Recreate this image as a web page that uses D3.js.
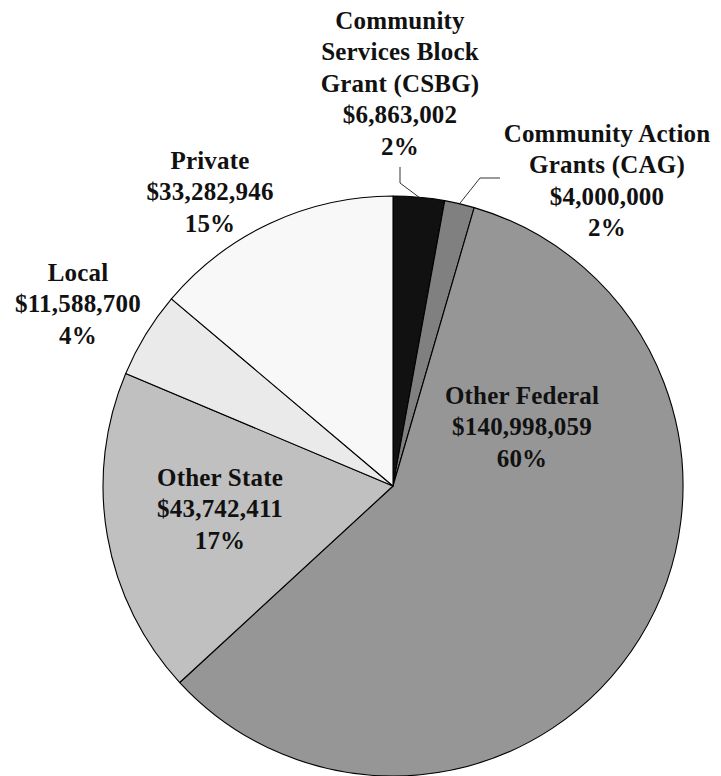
<!DOCTYPE html>
<html>
<head>
<meta charset="utf-8">
<script src="https://cdn.jsdelivr.net/npm/d3@7"></script>
<style>
  html, body { margin: 0; padding: 0; background: #fff; }
  svg text { font-family: "Liberation Serif", "Times New Roman", serif; font-weight: bold; fill: #111; }
</style>
</head>
<body>
<svg id="chart" width="721" height="776"></svg>
<script>
// Funding sources, clockwise from 12 o'clock
const categories = ["Community Services Block Grant (CSBG)", "Community Action Grants (CAG)", "Other Federal", "Other State", "Local", "Private"];
const amounts = [6863002, 4000000, 140998059, 43742411, 11588700, 33282946];
const percentLabels = ["2%", "2%", "60%", "17%", "4%", "15%"];
const nameLines = [
  ["Community", "Services Block", "Grant (CSBG)"],
  ["Community Action", "Grants (CAG)"],
  ["Other Federal"],
  ["Other State"],
  ["Local"],
  ["Private"]
];
const fills = ["#111111", "#808080", "#969696", "#c0c0c0", "#eaeaea", "#f8f8f8"];

const cx = 393, cy = 486, radius = 290;
const lineH = 31.5;

// label anchor: centre x and y of the first line
const labelPos = [
  { x: 400, y: 20 },
  { x: 607, y: 133 },
  { x: 522, y: 395 },
  { x: 220, y: 477 },
  { x: 78, y: 272 },
  { x: 210, y: 160 }
];

const fmt = d3.format("$,");

const svg = d3.select("#chart");
const g = svg.append("g").attr("transform", `translate(${cx},${cy})`);

const pie = d3.pie().sort(null).value(d => d.value);
const data = categories.map((c, i) => ({ name: c, value: amounts[i], i }));
const arcs = pie(data);
const arc = d3.arc().innerRadius(0).outerRadius(radius);

g.selectAll("path.slice")
  .data(arcs)
  .join("path")
  .attr("class", "slice")
  .attr("d", arc)
  .attr("fill", d => fills[d.data.i])
  .attr("stroke", "#000")
  .attr("stroke-width", 1.1)
  .attr("stroke-linejoin", "round");

// leader lines for the two thin slices at the top
function outerPoint(a) {
  const m = (a.startAngle + a.endAngle) / 2;
  return [cx + radius * Math.sin(m), cy - radius * Math.cos(m)];
}
const leaders = [
  { idx: 0, pts: [[400, 167], [400, 183]] },
  { idx: 1, pts: [[500, 178], [480, 178]] }
];
leaders.forEach(l => {
  const pts = l.pts.concat([outerPoint(arcs[l.idx])]);
  svg.append("path")
    .attr("d", d3.line()(pts))
    .attr("fill", "none")
    .attr("stroke", "#000")
    .attr("stroke-width", 0.8);
});

// data labels: name lines, amount, percent
arcs.forEach(a => {
  const i = a.data.i;
  const lines = nameLines[i].concat([fmt(amounts[i]), percentLabels[i]]);
  const t = svg.append("text")
    .attr("text-anchor", "middle")
    .attr("font-size", 25)
    .attr("letter-spacing", 0.2);
  lines.forEach((s, k) => {
    t.append("tspan")
      .attr("x", labelPos[i].x)
      .attr("y", labelPos[i].y + k * lineH)
      .attr("dy", "0.35em")
      .text(s);
  });
});
</script>
</body>
</html>
